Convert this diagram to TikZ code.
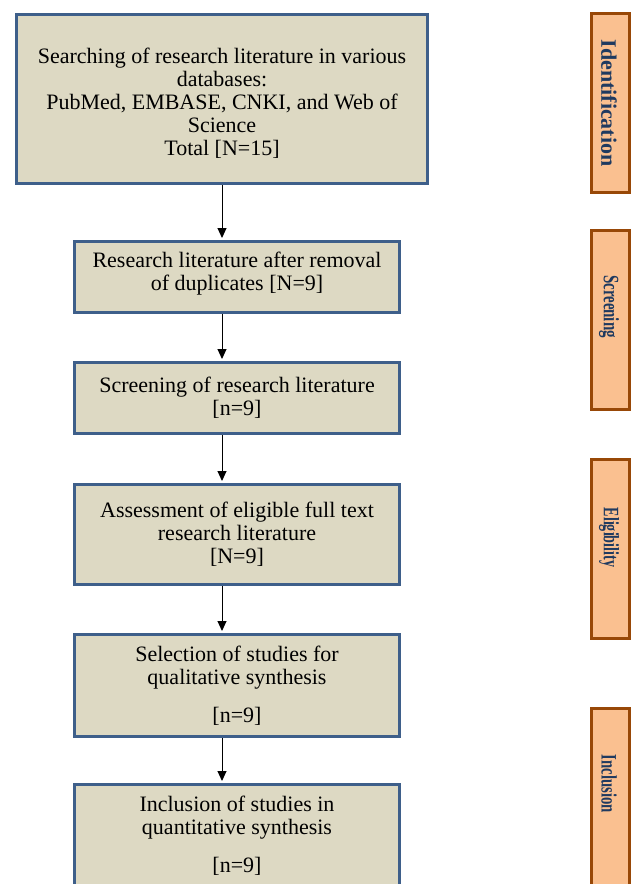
\documentclass[tikz,border=0pt]{standalone}
\usepackage{fontspec}
\setmainfont{Liberation Serif}
\usetikzlibrary{arrows.meta}
\definecolor{boxfill}{HTML}{DDD9C3}
\definecolor{boxline}{HTML}{3E5F8A}
\definecolor{sidefill}{HTML}{FAC090}
\definecolor{sideline}{HTML}{984807}
\definecolor{sidetext}{HTML}{1F3A60}
\tikzset{
  stagebox/.style={draw=boxline, fill=boxfill, line width=3pt, align=center, inner sep=0pt,
    font=\fontsize{22}{23}\selectfont},
  phasebox/.style={draw=sideline, fill=sidefill, line width=3pt, minimum width=179pt, minimum height=38pt,
    rotate=-90, inner sep=0pt},
  phasetext/.style={rotate=-90, text=sidetext, font=\fontsize{22}{23}\selectfont\bfseries, inner sep=0pt},
  flow/.style={line width=1pt, -{Triangle[length=10pt,width=9pt]}, shorten >=2pt}
}
\begin{document}
\begin{tikzpicture}[x=1pt, y=-1pt]
\useasboundingbox (0,0) rectangle (633,884);
% stages of the flow
\node[stagebox, minimum width=411pt, minimum height=169pt] (search) at (222,99)
  {\rule{0pt}{23pt}Searching of research literature in various\\ databases:\\ PubMed, EMBASE, CNKI, and Web of\\ Science\\ Total [N=15]};
\node[stagebox, minimum width=325pt, minimum height=71pt] (dedup) at (237,277)
  {Research literature after removal\\ of duplicates [N=9]\\[-12pt]};
\node[stagebox, minimum width=325pt, minimum height=71pt] (screen) at (237,398)
  {Screening of research literature\\ {[n=9]}};
\node[stagebox, minimum width=325pt, minimum height=100pt] (assess) at (237,534.5)
  {Assessment of eligible full text\\ research literature\\ {[N=9]}};
\node[stagebox, minimum width=325pt, minimum height=102pt] (select) at (237,685.5)
  {Selection of studies for\\ qualitative synthesis\\[15pt] {[n=9]}};
\node[stagebox, minimum width=325pt, minimum height=102pt] (include) at (237,835.5)
  {Inclusion of studies in\\ quantitative synthesis\\[15pt] {[n=9]}};
% arrows
\draw[flow] (search.south) -- (search.south |- dedup.north);
\foreach \a/\b in {dedup/screen, screen/assess, assess/select, select/include}
  \draw[flow] (search.south |- \a.south) -- (search.south |- \b.north);
% phase labels on the right
\node[phasebox] (ident) at (610.5,103) {};
\node[phasebox] (scr) at (610.5,319.5) {};
\node[phasebox] (elig) at (610.5,549) {};
\node[phasebox] (incl) at (610.5,798) {};
\node[phasetext] (identlbl) at (609,103) {Identification};
\node[phasetext, xscale=0.68] (scrlbl) at (609,306.5) {Screening};
\node[phasetext, xscale=0.64] (eliglbl) at (609,537.5) {Eligibility};
\node[phasetext, xscale=0.67] (incllbl) at (609,784) {Inclusion};
\end{tikzpicture}
\end{document}
